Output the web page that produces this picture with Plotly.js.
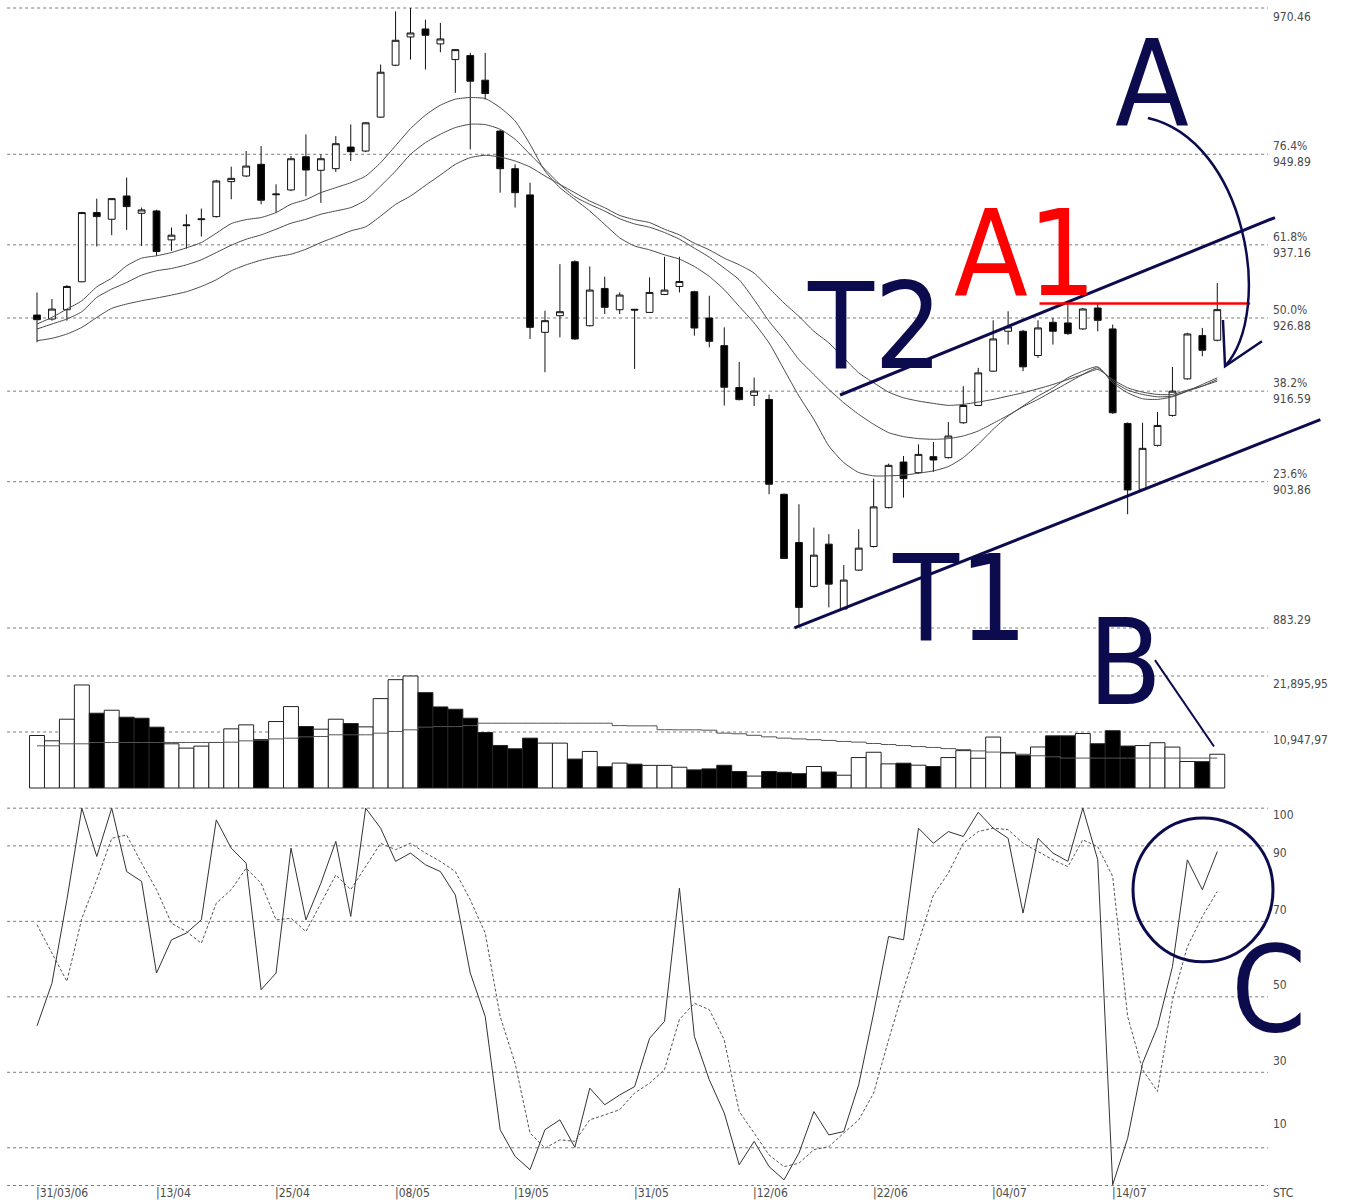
<!DOCTYPE html>
<html>
<head>
<meta charset="utf-8">
<script src="https://cdn.plot.ly/plotly-3.0.1.min.js"></script>
<style>html,body{margin:0;padding:0;background:#fff}#chart{width:1348px;height:1203px}</style>
</head>
<body>
<div id="chart"></div>
<script>
// ---------- DATA ----------
const openP = [927.29,926.73,928.04,931.97,941.70,940.76,944.03,941.60,941.93,937.86,
939.85,940.70,941.13,946.05,946.84,948.48,944.20,944.88,949.55,947.64,
947.87,950.91,950.35,955.12,962.42,966.39,967.51,965.41,963.21,963.77,
960.31,953.15,947.87,944.18,924.86,927.20,934.78,925.79,931.03,928.04,
928.10,927.66,930.19,931.31,930.57,926.87,922.99,917.10,916.00,915.42,
902.09,895.31,889.14,895.08,885.96,891.43,894.75,900.22,906.63,905.13,
907.38,907.24,912.15,914.58,919.40,925.01,925.01,921.60,926.27,926.18,
925.34,928.28,925.34,912.05,902.79,908.97,913.18,918.32,924.40,923.75];
const highP = [930.47,929.54,931.50,941.80,943.66,943.70,946.61,942.40,942.10,939.59,
941.46,942.26,946.30,948.15,950.35,951.05,945.67,949.65,952.69,949.88,
952.45,954.09,954.40,962.51,969.99,970.46,968.82,968.36,964.70,964.15,
964.15,953.30,948.48,945.90,927.90,934.45,935.00,934.12,932.67,930.47,
928.13,932.58,935.48,935.48,930.70,930.01,925.56,920.70,918.50,916.12,
902.20,900.69,897.41,896.48,892.13,897.18,904.29,906.40,907.47,909.11,
909.44,912.24,917.29,919.86,926.55,927.82,925.20,926.55,926.88,928.90,
928.30,928.98,925.95,912.20,912.15,913.64,920.00,924.80,925.48,931.79];
const lowP = [923.46,926.50,926.50,931.90,936.93,938.52,939.26,937.02,935.62,936.32,
936.64,938.33,941.00,943.57,946.70,942.86,941.70,944.70,944.00,943.06,
947.40,948.95,950.20,955.00,962.30,963.21,961.81,964.24,958.53,950.58,
957.60,944.50,942.40,923.93,919.25,924.16,923.80,925.70,927.43,927.43,
919.72,927.60,930.10,930.47,924.39,922.76,914.57,915.30,914.50,902.09,
893.00,883.38,889.00,886.19,885.90,891.30,894.60,900.10,901.62,905.00,
905.23,907.10,912.00,914.50,919.30,923.14,919.40,921.27,923.14,924.50,
925.20,925.01,913.40,899.29,902.60,908.80,913.00,918.20,921.50,923.60];
const closeP = [926.64,928.13,931.31,941.70,941.13,943.66,942.54,942.07,936.22,938.52,
939.95,940.80,946.14,946.51,948.24,943.43,944.30,949.27,947.68,949.27,
951.38,950.26,954.32,961.43,965.92,966.95,966.62,966.11,964.61,960.17,
958.44,947.87,944.50,925.56,926.50,927.76,923.93,930.80,928.37,930.10,
928.00,930.47,930.80,932.01,925.47,923.60,917.14,915.40,916.60,903.50,
893.06,886.19,893.53,889.46,890.03,894.52,900.32,906.16,904.29,907.70,
906.91,910.28,914.58,919.16,923.93,925.62,920.01,925.48,925.01,924.68,
928.14,926.55,913.55,902.70,908.55,911.77,916.59,924.63,922.34,928.05];

const maFast = [926.03,926.96,928.13,929.30,931.26,932.48,934.21,935.29,935.62,936.08,
936.74,937.49,938.80,940.15,940.71,941.00,941.70,942.87,943.52,944.50,
945.20,945.90,946.84,948.72,951.10,953.50,955.40,956.80,957.64,957.87,
957.73,956.46,954.58,951.30,947.54,945.20,943.55,941.91,940.03,938.15,
937.00,936.46,935.76,935.15,934.12,932.72,930.85,928.51,926.18,923.37,
919.64,915.90,912.63,908.89,906.55,905.15,904.68,904.68,904.78,905.06,
905.38,905.99,907.25,909.12,911.23,913.09,914.50,915.90,917.06,918.47,
919.40,920.01,917.77,916.36,915.52,915.43,915.80,916.60,917.53,918.47];
const maMid = [925.33,926.03,926.73,927.76,929.77,930.94,931.87,932.90,933.51,933.84,
934.35,935.06,936.08,937.11,937.95,938.56,939.36,940.20,940.76,941.46,
941.93,942.40,943.46,945.43,947.54,949.89,951.53,952.71,953.65,954.12,
954.07,953.41,952.00,949.89,947.78,945.66,943.93,942.85,941.91,940.83,
940.10,939.64,938.89,937.95,936.69,935.43,933.89,932.25,929.45,926.41,
923.84,921.04,918.93,916.83,914.96,913.33,911.93,910.76,910.20,909.92,
909.82,909.92,910.29,910.99,912.07,913.19,914.40,915.43,916.60,917.77,
918.93,919.87,918.00,916.74,916.13,915.80,915.90,916.60,917.30,918.23];
const maSlow = [923.69,924.02,924.62,925.56,926.96,928.23,928.84,929.30,929.68,930.10,
930.57,931.31,932.25,933.51,934.35,935.01,935.48,935.85,936.55,937.49,
938.29,939.12,939.70,941.20,942.85,944.02,945.52,946.98,948.48,949.42,
949.75,949.51,948.95,948.11,946.84,945.66,944.49,943.32,942.38,941.30,
940.70,940.29,939.36,938.56,937.39,936.46,935.29,934.36,933.19,931.08,
928.98,927.11,925.01,923.37,921.27,919.17,917.77,916.46,915.66,915.20,
914.87,914.59,914.73,915.06,915.43,915.90,916.36,916.92,917.53,918.23,
918.93,919.64,918.23,917.06,916.46,916.13,916.13,916.74,917.30,918.00];

const volume = [10265,9226,13449,20141,14618,15203,13839,13644,11890,8641,
7796,8186,8901,11565,12344,9486,12994,15918,12019,11500,
13449,12604,11954,17477,21180,21895,18646,15853,15398,13644,
10850,8316,7666,9746,8771,8771,5652,7147,4158,4873,
4660,4420,4420,4060,3540,3735,4444,3220,2330,3230,
3070,2800,4200,3130,2500,5950,6990,4720,4850,4460,
4200,5950,7310,5820,9960,6950,6400,8020,10200,10200,
10650,8650,11200,8200,8300,8850,8000,5180,5150,6600];
// 1 = volume bar drawn hollow (up day), 0 = filled (down day)
const volUp = [1,1,1,1,0,1,0,0,0,1, 1,1,1,1,1,0,1,1,0,1, 1,0,1,1,1,1,0,0,0,0,
0,0,0,0,1,1,0,1,0,1, 0,1,1,1,0,0,0,0,1,0, 0,0,1,0,1,1,1,1,0,1,
0,1,1,1,1,1,0,1,0,0, 1,0,0,0,1,1,1,1,0,1];
const volMA = [8250,8250,8640,8640,8900,8900,8900,8900,8900,8900,
8900,8900,8900,8960,9220,9350,9600,9740,10000,10070,
10400,10400,10400,10720,11050,11370,11900,12000,12000,12200,
12670,12670,12670,12670,12670,12670,12670,12670,12670,12200,
12150,12150,11400,11370,11370,11300,10720,10600,10300,10000,
9750,9600,9450,9300,9100,8970,8700,8500,8300,8100,
7930,7700,7500,7250,7020,6820,6600,6300,6100,5850,
5850,5850,5850,5850,5850,5850,5850,5850,5850,5850];

const stochK = [42.3,53.6,75.7,100,87.2,100,83.2,80.6,56.3,65.1,
66.9,70.4,96.9,89.4,85.4,51.9,56.3,89.4,70.4,80.1,
91.2,71.3,100,94.7,85.9,88.1,85.0,83.2,77.0,56.3,
44.8,14.8,7.7,4.2,14.8,17.4,10.1,25.8,21.4,24.0,
26.2,39.0,43.5,78.8,39.5,28.0,19.2,5.5,11.7,5.0,
1.5,8.6,19.6,13.4,14.3,26.7,45.7,66.0,65.1,94.7,
90.7,93.8,92.5,98.9,94.7,92.0,72.2,92.0,88.1,85.9,
100,86.3,0.2,12.5,32.4,42.1,58.0,86.3,78.4,88.5];
const stochD = [69.1,61.6,54.1,70.8,81.0,92.0,92.9,85.4,78.4,69.5,
67.3,64.2,74.8,78.4,84.1,80.1,70.4,70.8,67.3,74.8,
82.3,78.4,84.5,90.7,89.0,90.7,88.1,85.9,83.2,75.7,
66.9,44.8,32.4,13.9,9.9,12.1,11.7,17.4,18.7,20.1,
24.5,27.1,30.7,44.0,48.3,46.6,38.6,19.6,13.9,8.1,
5.0,5.9,9.5,10.3,13.9,17.4,24.5,38.6,51.9,64.2,
77.0,82.8,90.7,93.8,94.7,94.3,90.7,88.5,86.3,84.5,
91.6,89.8,81.9,44.8,30.7,24.9,49.2,63.3,71.3,77.9];

const dateTickIdx = [0,8,16,24,32,40,48,56,64,72];
const dateTickText = ['31/03/06','13/04','25/04','08/05','19/05','31/05','12/06','22/06','04/07','14/07'];

const priceLevels = [970.46,949.89,937.16,926.88,916.59,903.86,883.29];
const priceLevelText = ['970.46','76.4%<br>949.89','61.8%<br>937.16','50.0%<br>926.88','38.2%<br>916.59','23.6%<br>903.86','883.29'];
const volLevels = [21895.95,10947.97];
const volLevelText = ['21,895,95','10,947,97'];
const stochLevels = [100,90,70,50,30,10,0];
const stochLevelText = ['100','90','70','50','30','10','STC'];

// Hand-drawn annotation geometry, in data units: [index, price]
const trendT1 = [[50.7,883.3],[85.9,912.6]];
const trendT2 = [[53.75,916.05],[82.86,941.0]];
const lineA1 = [[67.1,928.9],[81.2,928.9]];

// ---------- STYLE / LAYOUT ----------
const N = openP.length;
const idx = Array.from({length:N},(_,i)=>i);
const NAVY = '#0b0b4e';
const FONT = '"Liberation Sans Narrow","Arial Narrow","DejaVu Sans Condensed",sans-serif';
const GRID = {color:'#7a7a7a', width:1, dash:'3px,3px'};
const GX0 = -2.0, GX1 = 82.4;

const traces = [
  {type:'scatter', x:idx, y:maSlow, mode:'lines', line:{color:'#4a4a4a',width:1,shape:'spline',smoothing:0.6}, xaxis:'x', yaxis:'y'},
  {type:'scatter', x:idx, y:maMid, mode:'lines', line:{color:'#4a4a4a',width:1,shape:'spline',smoothing:0.6}, xaxis:'x', yaxis:'y'},
  {type:'scatter', x:idx, y:maFast, mode:'lines', line:{color:'#4a4a4a',width:1,shape:'spline',smoothing:0.6}, xaxis:'x', yaxis:'y'},
  {type:'candlestick', x:idx, open:openP, high:highP, low:lowP, close:closeP, xaxis:'x', yaxis:'y',
   whiskerwidth:0,
   increasing:{line:{color:'#111',width:1}, fillcolor:'#ffffff'},
   decreasing:{line:{color:'#111',width:1}, fillcolor:'#000000'}},
  {type:'bar', x:idx, y:volume, xaxis:'x', yaxis:'y2',
   marker:{color:volUp.map(u=>u?'#ffffff':'#000000'), line:{color:'#222',width:1}}},
  {type:'scatter', x:idx, y:volMA, mode:'lines', xaxis:'x', yaxis:'y2', line:{color:'#555',width:1,shape:'hvh'}},
  {type:'scatter', x:idx, y:stochD, mode:'lines', xaxis:'x', yaxis:'y3', line:{color:'#555',width:1,dash:'3px,2px'}},
  {type:'scatter', x:idx, y:stochK, mode:'lines', xaxis:'x', yaxis:'y3', line:{color:'#333',width:1}}
];

const shapes = [];
priceLevels.forEach(v=>shapes.push({type:'line',layer:'below',xref:'x',yref:'y',x0:GX0,x1:GX1,y0:v,y1:v,line:GRID}));
volLevels.forEach(v=>shapes.push({type:'line',layer:'below',xref:'x',yref:'y2',x0:GX0,x1:GX1,y0:v,y1:v,line:GRID}));
stochLevels.forEach(v=>shapes.push({type:'line',layer:'below',xref:'x',yref:'y3',x0:GX0,x1:GX1,y0:v,y1:v,line:GRID}));
[trendT1,trendT2].forEach(t=>shapes.push({type:'line',xref:'x',yref:'y',x0:t[0][0],y0:t[0][1],x1:t[1][0],y1:t[1][1],line:{color:NAVY,width:3}}));
shapes.push({type:'line',xref:'x',yref:'y',x0:lineA1[0][0],y0:lineA1[0][1],x1:lineA1[1][0],y1:lineA1[1][1],line:{color:'#ff0000',width:2.5}});
// curved arrow from "A"
shapes.push({type:'path',xref:'x',yref:'y',path:'M 74.36,955.0 C 80.86,951.9 82.86,928.0 79.52,920.1',line:{color:NAVY,width:2.5}});
shapes.push({type:'path',xref:'x',yref:'y',path:'M 79.38,926.6 L 79.52,920.1 L 81.99,923.6',line:{color:NAVY,width:2.5}});
// pointer from "B"
shapes.push({type:'line',xref:'x',yref:'y2',x0:74.83,y0:25000,x1:78.78,y1:8121,line:{color:NAVY,width:2}});
// circle "C"
shapes.push({type:'circle',xref:'x',yref:'y3',x0:73.36,x1:82.73,y0:59.3,y1:97.4,line:{color:NAVY,width:3}});

const annotations = [];
const lblFont = {family:FONT,size:12,color:'#4a4a4a'};
const priceShift = [-9,0,0,0,0,0,8];
priceLevels.forEach((v,k)=>annotations.push({xref:'x',yref:'y',x:82.6,y:v,text:priceLevelText[k],showarrow:false,xanchor:'left',yanchor:'middle',yshift:priceShift[k],font:lblFont,align:'left'}));
volLevels.forEach((v,k)=>annotations.push({xref:'x',yref:'y2',x:82.6,y:v,text:volLevelText[k],showarrow:false,xanchor:'left',yanchor:'middle',yshift:-8,font:lblFont}));
const stochShift = [-7,-7,11,12,11,24,-7];
stochLevels.forEach((v,k)=>annotations.push({xref:'x',yref:'y3',x:82.6,y:v,text:stochLevelText[k],showarrow:false,xanchor:'left',yanchor:'middle',yshift:stochShift[k],font:lblFont}));
dateTickIdx.forEach((t,k)=>annotations.push({xref:'x',yref:'paper',x:t,y:0.0083,text:'|'+dateTickText[k],showarrow:false,xanchor:'left',yanchor:'middle',xshift:-3,font:lblFont}));

const big = (txt,x,y,color)=>({xref:'paper',yref:'paper',x:x,y:y,text:txt,showarrow:false,xanchor:'center',yanchor:'middle',font:{family:FONT,size:120,color:color}});
annotations.push(big('A',0.8546,0.9310,NAVY));
annotations.push(big('A1',0.7604,0.7889,'#ff0000'));
annotations.push(big('T2',0.6491,0.7282,NAVY));
annotations.push(big('T1',0.7122,0.5029,NAVY));
annotations.push(big('B',0.8346,0.4497,NAVY));
annotations.push(big('C',0.9407,0.1771,NAVY));

const layout = {
  width:1348, height:1203, margin:{l:0,r:0,t:0,b:0},
  paper_bgcolor:'#ffffff', plot_bgcolor:'#ffffff', showlegend:false,
  boxgap:0.35, bargap:0,
  xaxis:{range:[-2.477,87.75], visible:false, rangeslider:{visible:false}, fixedrange:true},
  yaxis:{range:[802.45,971.585], visible:false, fixedrange:true},
  yaxis2:{range:[-81132,154054], overlaying:'y', visible:false, fixedrange:true},
  yaxis3:{range:[-4.637,314.17], overlaying:'y', visible:false, fixedrange:true},
  shapes:shapes, annotations:annotations
};
Plotly.newPlot('chart', traces, layout, {staticPlot:true, displayModeBar:false});
</script>
</body>
</html>
